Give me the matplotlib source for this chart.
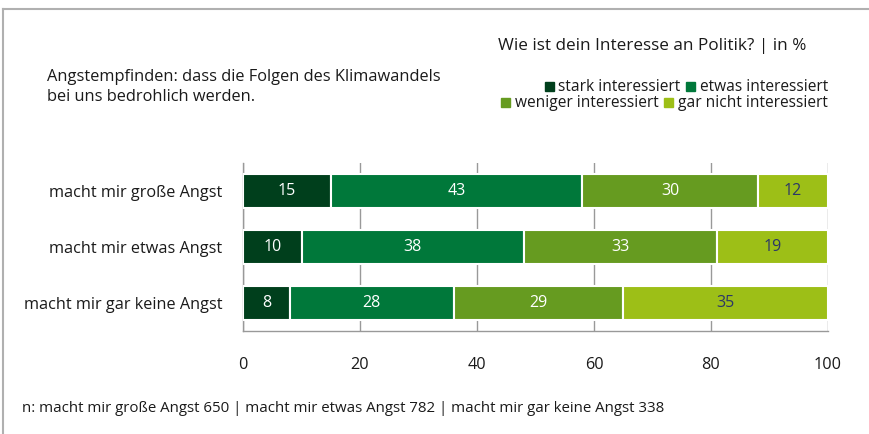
import numpy as np
import matplotlib.pyplot as plt
from matplotlib.patches import Rectangle
from matplotlib.lines import Line2D

plt.rcParams['font.family'] = ['Open Sans', 'DejaVu Sans']

categories = ['macht mir große Angst', 'macht mir etwas Angst', 'macht mir gar keine Angst']
series = ['stark interessiert', 'etwas interessiert', 'weniger interessiert', 'gar nicht interessiert']
stark = [15, 10, 8]
etwas = [43, 38, 28]
weniger = [30, 33, 29]
gar_nicht = [12, 19, 35]
n_counts = [650, 782, 338]

colors = ['#003f1c', '#00783a', '#669b20', '#9dbf17']
label_colors = ['white', 'white', 'white', '#2c3768']

fig = plt.figure(figsize=(8.69, 4.34), dpi=100)
ax = fig.add_axes([243 / 869, 1 - 331 / 434, 585 / 869, 168 / 434])

values = np.array([stark, etwas, weniger, gar_nicht])
y = np.arange(len(categories))
left = np.zeros(len(categories))
for vals, col, tcol in zip(values, colors, label_colors):
    ax.barh(y, vals, left=left, height=0.59, color=col,
            edgecolor='white', linewidth=1.5, zorder=3)
    for yi, v, l in zip(y, vals, left):
        ax.text(l + v / 2, yi, str(v), ha='center', va='center',
                color=tcol, fontsize=11.5, zorder=4)
    left += vals

ax.set_xlim(0, 100)
ax.set_ylim(len(categories) - 0.5, -0.5)
ax.set_yticks(y)
ax.set_yticklabels(categories, fontsize=11.7, color='#1a1a1a')
ax.set_xticks(np.arange(0, 101, 20))
ax.tick_params(axis='x', length=0, pad=19, labelsize=11.7, labelcolor='#1a1a1a')
ax.tick_params(axis='y', length=0, pad=15)
ax.grid(axis='x', color='#999999', linewidth=1, zorder=0)
for s in ['top', 'right']:
    ax.spines[s].set_visible(False)
for s in ['left', 'bottom']:
    ax.spines[s].set_color('#999999')
    ax.spines[s].set_linewidth(1)

# frame lines along the top and left edge
fig.add_artist(Line2D([3 / 869, 1], [1 - 9 / 434, 1 - 9 / 434],
                      color='#b0b0b0', linewidth=1.5, transform=fig.transFigure))
fig.add_artist(Line2D([3 / 869, 3 / 869], [0, 1 - 9 / 434],
                      color='#b0b0b0', linewidth=1.5, transform=fig.transFigure))

fig.text(47 / 869, 1 - 87 / 434,
         'Angstempfinden: dass die Folgen des Klimawandels\nbei uns bedrohlich werden.',
         fontsize=11.8, va='center', ha='left', linespacing=1.35, color='#1a1a1a')
fig.text(806 / 869, 1 - 46 / 434, 'Wie ist dein Interesse an Politik? | in %',
         fontsize=12.3, va='center', ha='right', color='#1a1a1a')

# legend rows, laid out right to left
renderer = fig.canvas.get_renderer()
rows = [(0, 1, 87), (2, 3, 103)]
for a, b, ypix in rows:
    xr = 828
    for i in (b, a):
        t = fig.text(xr / 869, 1 - ypix / 434, series[i], fontsize=11.2,
                     ha='right', va='center', color='#1a1a1a')
        w = t.get_window_extent(renderer).width
        sq_right = xr - w - 5
        fig.add_artist(Rectangle(((sq_right - 9) / 869, 1 - (ypix + 4) / 434),
                                 9 / 869, 9 / 434, color=colors[i],
                                 transform=fig.transFigure))
        xr = sq_right - 9 - 5

fig.text(22 / 869, 1 - 408 / 434,
         'n: ' + ' | '.join(f'{c} {n}' for c, n in zip(categories, n_counts)),
         fontsize=10.8, va='center', ha='left', color='#1a1a1a')

fig.savefig('out.png', dpi=100)
